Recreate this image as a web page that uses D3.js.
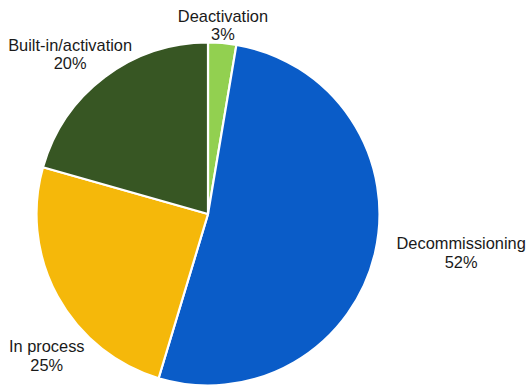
<!DOCTYPE html>
<html>
<head>
<meta charset="utf-8">
<script src="https://cdn.jsdelivr.net/npm/d3@7"></script>
<style>
  body { margin: 0; background: #fff; }
  svg text { font-family: "Liberation Sans", Arial, sans-serif; font-size: 16.4px; fill: #1a1a1a; }
</style>
</head>
<body>
<svg id="chart" width="528" height="387"></svg>
<script>
const categories = ["Deactivation", "Decommissioning", "In process", "Built-in/activation"];
const values = [2.65, 52.0, 24.75, 20.6];
const labels = ["3%", "52%", "25%", "20%"];
const colors = ["#92d050", "#0a5cc8", "#f5b80a", "#375623"];

const width = 528, height = 387;
const cx = 208, cy = 214, radius = 171.5;

const svg = d3.select("#chart");
const g = svg.append("g").attr("transform", `translate(${cx},${cy})`);

const pie = d3.pie().sort(null).value((d) => d.value);
const arc = d3.arc().innerRadius(0).outerRadius(radius);

const data = categories.map((c, i) => ({ name: c, value: values[i], label: labels[i], color: colors[i] }));
const arcs = pie(data);

g.selectAll("path")
  .data(arcs)
  .enter()
  .append("path")
  .attr("d", arc)
  .attr("fill", (d) => d.data.color)
  .attr("stroke", "#fff")
  .attr("stroke-width", 2.2)
  .attr("stroke-linejoin", "round");

// label placement: radius from center, plus small nudges (excel-ish outside labels)
const labelR = [190, 255, 216, 217];
const labelNudge = [[1, 0], [1, 0], [1, -2], [8, 0]];
const labelAngleShift = [-0.01, -0.08, -0.22, -0.09];

const lbl = g.selectAll(".lbl")
  .data(arcs)
  .enter()
  .append("text")
  .attr("class", "lbl")
  .attr("text-anchor", "middle")
  .attr("transform", (d, i) => {
    const a = (d.startAngle + d.endAngle) / 2 + labelAngleShift[i];
    const x = Math.sin(a) * labelR[i] + labelNudge[i][0];
    const y = -Math.cos(a) * labelR[i] + labelNudge[i][1];
    return `translate(${x},${y})`;
  });

lbl.append("tspan").attr("x", 0).attr("dy", "-0.15em").text((d) => d.data.name);
lbl.append("tspan").attr("x", 0).attr("dy", "1.12em").text((d) => d.data.label);
</script>
</body>
</html>
